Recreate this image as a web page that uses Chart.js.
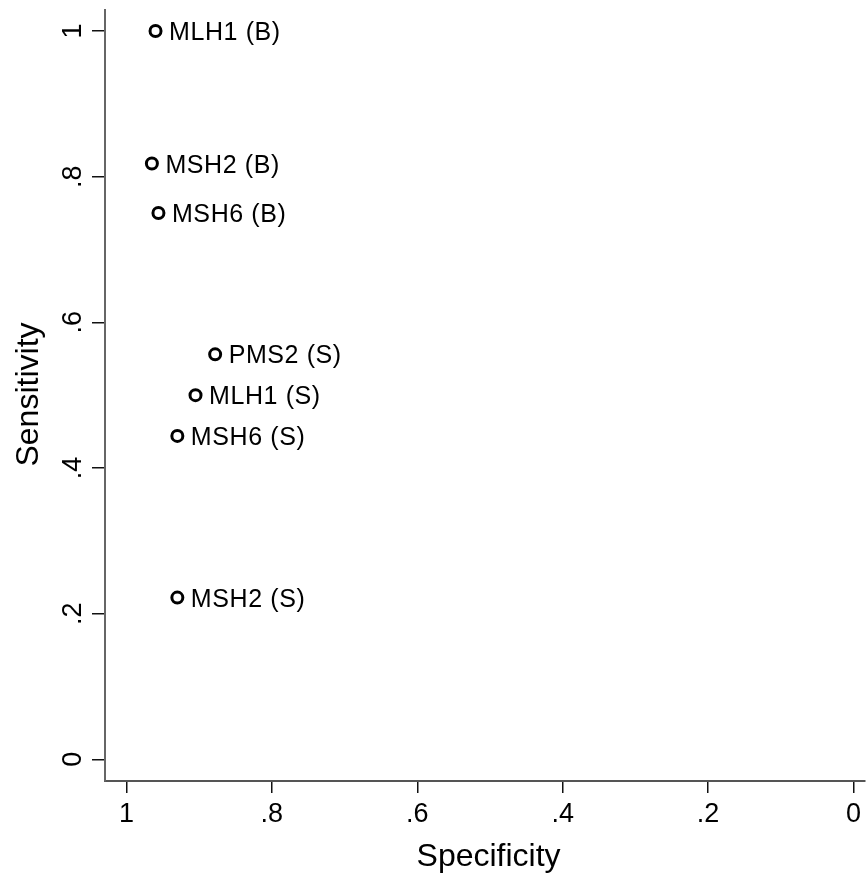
<!DOCTYPE html>
<html>
<head>
<meta charset="utf-8">
<script src="https://cdn.jsdelivr.net/npm/chart.js@4.4.1/dist/chart.umd.min.js"></script>
<style>
  html, body { margin: 0; padding: 0; background: #fff; }
  #wrap { width: 866px; height: 879px; position: relative; }
</style>
</head>
<body>
<div id="wrap"><canvas id="c"></canvas></div>
<script>
// ---- data ----
const pointLabels = ['MLH1 (B)', 'MSH2 (B)', 'MSH6 (B)', 'PMS2 (S)', 'MLH1 (S)', 'MSH6 (S)', 'MSH2 (S)'];
const specificity = [0.960, 0.965, 0.956, 0.878, 0.905, 0.930, 0.930];
const sensitivity = [1.000, 0.818, 0.750, 0.556, 0.500, 0.444, 0.222];
const xTickValues = [1, 0.8, 0.6, 0.4, 0.2, 0];
const xTickLabels = ['1', '.8', '.6', '.4', '.2', '0'];
const yTickValues = [0, 0.2, 0.4, 0.6, 0.8, 1];
const yTickLabels = ['0', '.2', '.4', '.6', '.8', '1'];
const xTitle = 'Specificity';
const yTitle = 'Sensitivity';

const FONT = '"Liberation Sans", Arial, Helvetica, sans-serif';

const points = specificity.map((s, i) => ({ x: s, y: sensitivity[i] }));

const annot = {
  id: 'annot',
  afterDatasetsDraw(chart) {
    const ctx = chart.ctx;
    const meta = chart.getDatasetMeta(0);
    const ys = chart.scales.y;
    const ca = chart.chartArea;
    ctx.save();
    ctx.fillStyle = '#000';
    // point labels
    ctx.font = '25px ' + FONT;
    if ('letterSpacing' in ctx) ctx.letterSpacing = '0.6px';
    ctx.textAlign = 'left';
    ctx.textBaseline = 'alphabetic';
    meta.data.forEach((pt, i) => {
      ctx.fillText(pointLabels[i], pt.x + 13.5, pt.y + 9);
    });
    if ('letterSpacing' in ctx) ctx.letterSpacing = '0px';
    // y tick labels (rotated)
    ctx.font = '27px ' + FONT;
    ctx.textAlign = 'center';
    yTickValues.forEach((v, i) => {
      const y = ys.getPixelForValue(v);
      ctx.save();
      ctx.translate(81, y);
      ctx.rotate(-Math.PI / 2);
      ctx.fillText(yTickLabels[i], 0, 0);
      ctx.restore();
    });
    // axis titles
    ctx.font = '32px ' + FONT;
    ctx.fillText(xTitle, (ca.left + ca.right) / 2 + 3.5, 866);
    ctx.save();
    ctx.translate(38, (ca.top + ca.bottom) / 2 - 1);
    ctx.rotate(-Math.PI / 2);
    ctx.fillText(yTitle, 0, 0);
    ctx.restore();
    ctx.restore();
  }
};

new Chart(document.getElementById('c'), {
  type: 'scatter',
  data: {
    datasets: [{
      data: points,
      pointRadius: 5.5,
      pointHoverRadius: 5.5,
      pointBorderWidth: 3,
      pointBackgroundColor: '#fff',
      pointBorderColor: '#000'
    }]
  },
  options: {
    responsive: true,
    maintainAspectRatio: false,
    animation: false,
    events: [],
    layout: { autoPadding: false, padding: { top: 10, right: 0, left: 0, bottom: 0 } },
    plugins: { legend: { display: false }, tooltip: { enabled: false } },
    scales: {
      x: {
        type: 'linear',
        reverse: true,
        min: -0.016,
        max: 1.0295,
        afterFit: (s) => { s.height = 98; },
        afterBuildTicks: (s) => { s.ticks = xTickValues.map(v => ({ value: v })); },
        grid: { display: true, drawOnChartArea: false, drawTicks: true, tickLength: 12, color: '#111', lineWidth: 1.5 },
        border: { display: true, color: '#555', width: 2 },
        ticks: {
          color: '#000',
          font: { size: 27, family: FONT },
          padding: 5,
          maxRotation: 0,
          minRotation: 0,
          callback: (v) => { const i = xTickValues.indexOf(v); return i >= 0 ? xTickLabels[i] : ''; }
        },
        title: { display: false }
      },
      y: {
        type: 'linear',
        min: -0.0298,
        max: 1.0288,
        afterFit: (s) => { s.width = 105; },
        afterBuildTicks: (s) => { s.ticks = yTickValues.map(v => ({ value: v })); },
        grid: { display: true, drawOnChartArea: false, drawTicks: true, tickLength: 13, color: '#111', lineWidth: 1.5 },
        border: { display: true, color: '#666', width: 2 },
        ticks: { display: false },
        title: { display: false }
      }
    }
  },
  plugins: [annot]
});
</script>
</body>
</html>
